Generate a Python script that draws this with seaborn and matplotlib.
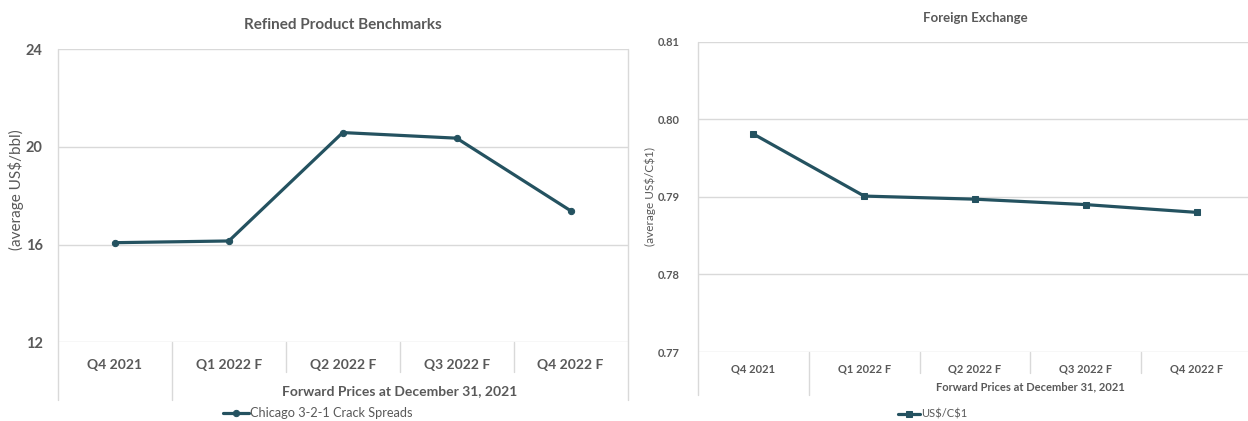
import matplotlib
matplotlib.use("Agg")
import matplotlib.pyplot as plt
import matplotlib.transforms as mtransforms
import seaborn as sns
import pandas as pd

# Quarterly categories shared by both panels
quarters = ["Q4 2021", "Q1 2022 F", "Q2 2022 F", "Q3 2022 F", "Q4 2022 F"]

# Chicago 3-2-1 crack spreads (average US$/bbl)
crack_spreads = [16.08, 16.15, 20.59, 20.36, 17.39]
crack_ticks = [12, 16, 20, 24]

# US$/C$1 exchange rate
fx_rates = [0.7981, 0.7901, 0.7897, 0.7890, 0.7880]
fx_ticks = [0.77, 0.78, 0.79, 0.80, 0.81]

group_label = "Forward Prices at December 31, 2021"

sns.set_theme(style="white")
plt.rcParams["font.family"] = ["Lato", "DejaVu Sans"]

LINE = "#245260"
TEXT = "#595959"
GRID = "#d9d9d9"

W, H = 1248, 421
fig = plt.figure(figsize=(W / 100, H / 100), dpi=100)
fig.patch.set_facecolor("white")


def px_axes(x0, y0, x1, y1):
    return fig.add_axes([x0 / W, 1 - y1 / H, (x1 - x0) / W, (y1 - y0) / H])


def style_panel(ax, ticks, fmt, tick_size, cat_size, cat_pad, ytick_pad,
                sep_short, sep_long):
    n = len(quarters)
    ax.set_xlim(-0.5, n - 0.5)
    ax.set_ylim(ticks[0], ticks[-1])
    ax.set_yticks(ticks)
    ax.set_yticklabels([fmt(t) for t in ticks])
    ax.set_xticks(range(n))
    ax.set_xticklabels(quarters)
    for s in ax.spines.values():
        s.set_visible(False)
    ax.grid(axis="y", color=GRID, linewidth=1.0)
    ax.grid(axis="x", visible=False)
    ax.set_axisbelow(True)
    ax.tick_params(axis="y", length=0, pad=ytick_pad, labelsize=tick_size,
                   labelcolor=TEXT)
    ax.tick_params(axis="x", length=0, pad=cat_pad, labelsize=cat_size,
                   labelcolor=TEXT)
    for lab in ax.get_xticklabels() + ax.get_yticklabels():
        lab.set_fontweight("bold")
    ax.set_xlabel("")
    # category frame: outer borders and separators below the axis
    trans = mtransforms.blended_transform_factory(ax.transData, ax.transAxes)
    for xb in [-0.5, n - 0.5]:
        ax.plot([xb, xb], [sep_long, 1.0], color=GRID, lw=1.0,
                transform=trans, clip_on=False, zorder=0)
    ax.plot([0.5, 0.5], [sep_long, 0.0], color=GRID, lw=1.0,
            transform=trans, clip_on=False, zorder=0)
    for xb in [1.5, 2.5, 3.5]:
        ax.plot([xb, xb], [sep_short, 0.0], color=GRID, lw=1.0,
                transform=trans, clip_on=False, zorder=0)
    return trans


# ---- Refined Product Benchmarks ----
ax1 = px_axes(58, 49.3, 627.5, 342.3)
df1 = pd.DataFrame({"quarter": quarters, "value": crack_spreads})
sns.lineplot(data=df1, x="quarter", y="value", sort=False, ax=ax1,
             color=LINE, linewidth=2.3, marker="o", markersize=4.5,
             markeredgecolor=LINE, label="Chicago 3-2-1 Crack Spreads",
             legend=False)
t1 = style_panel(ax1, crack_ticks, lambda v: f"{v:d}", 10.5, 10, 12, 11,
                 -0.101, -0.197)
ax1.set_ylabel("(average US\\$/bbl)", color=TEXT, fontsize=11)
ax1.yaxis.set_label_coords(-0.06, 0.52)
ax1.set_title("Refined Product Benchmarks", color=TEXT, fontsize=11,
              fontweight="bold", pad=14.5)
ax1.text(2.5, -0.165, group_label, transform=t1, ha="center", va="center",
         color=TEXT, fontsize=10, fontweight="bold")
h1, l1 = ax1.get_legend_handles_labels()
fig.legend(h1, l1, loc="center", bbox_to_anchor=(318 / W, 1 - 413 / H),
           frameon=False, fontsize=9.2, labelcolor=TEXT, handlelength=2.0,
           handletextpad=0.1, borderaxespad=0)

# ---- Foreign Exchange ----
ax2 = px_axes(698, 41.7, 1252, 352)
df2 = pd.DataFrame({"quarter": quarters, "value": fx_rates})
sns.lineplot(data=df2, x="quarter", y="value", sort=False, ax=ax2,
             color=LINE, linewidth=2.3, marker="s", markersize=4.5,
             markeredgecolor=LINE, label="US\\$/C\\$1", legend=False)
t2 = style_panel(ax2, fx_ticks, lambda v: f"{v:.2f}", 8, 8, 8, 13,
                 -0.067, -0.139)
ax2.set_ylabel("(average US\\$/C\\$1)", color=TEXT, fontsize=8.5)
ax2.yaxis.set_label_coords(-0.076, 0.5)
ax2.set_title("Foreign Exchange", color=TEXT, fontsize=9.5,
              fontweight="bold", pad=14)
ax2.text(2.5, -0.113, group_label, transform=t2, ha="center", va="center",
         color=TEXT, fontsize=8, fontweight="bold")
h2, l2 = ax2.get_legend_handles_labels()
fig.legend(h2, l2, loc="center", bbox_to_anchor=(933 / W, 1 - 414 / H),
           frameon=False, fontsize=8, labelcolor=TEXT, handlelength=2.0,
           handletextpad=0.1, borderaxespad=0)

fig.savefig("out.png", dpi=100, facecolor="white")
